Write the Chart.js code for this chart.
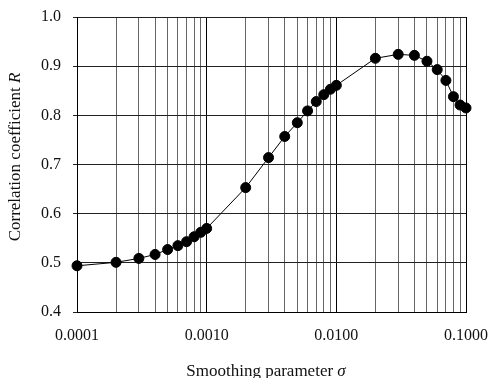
<!DOCTYPE html>
<html>
<head>
<meta charset="utf-8">
<script src="https://cdn.jsdelivr.net/npm/chart.js@4/dist/chart.umd.min.js"></script>
<style>
  html, body { margin: 0; padding: 0; background: #fff; }
  #wrap { width: 491px; height: 378px; }
</style>
</head>
<body>
<div id="wrap"><canvas id="myChart" width="491" height="378"></canvas></div>
<script>
// smoothing parameter sigma and correlation coefficient R
var sigma = [0.0001, 0.0002, 0.0003, 0.0004, 0.0005, 0.0006, 0.0007, 0.0008, 0.0009, 0.001,
             0.002, 0.003, 0.004, 0.005, 0.006, 0.007, 0.008, 0.009, 0.01,
             0.02, 0.03, 0.04, 0.05, 0.06, 0.07, 0.08, 0.09, 0.1];
var corr = [0.494, 0.501, 0.509, 0.517, 0.527, 0.535, 0.543, 0.553, 0.562, 0.570,
            0.653, 0.714, 0.757, 0.785, 0.809, 0.828, 0.842, 0.853, 0.861,
            0.916, 0.924, 0.922, 0.910, 0.893, 0.871, 0.838, 0.821, 0.815];
var xTickLabels = ['0.0001', '0.0010', '0.0100', '0.1000'];
var xTitle = ['Smoothing parameter ', 'σ'];
var yTitle = ['Correlation coefficient ', 'R'];

var serif = '"Liberation Serif", "Times New Roman", serif';

function isDecade(v) {
    var l = Math.log10(v);
    return Math.abs(l - Math.round(l)) < 1e-9;
}

// axis titles with an italic symbol at the end
function drawMixed(ctx, parts, x, y) {
    ctx.font = '17px ' + serif;
    var w0 = ctx.measureText(parts[0]).width;
    ctx.font = 'italic 17px ' + serif;
    var w1 = ctx.measureText(parts[1]).width;
    var start = x - (w0 + w1) / 2;
    ctx.textAlign = 'left';
    ctx.textBaseline = 'middle';
    ctx.fillStyle = '#111';
    ctx.font = '17px ' + serif;
    ctx.fillText(parts[0], start, y);
    ctx.font = 'italic 17px ' + serif;
    ctx.fillText(parts[1], start + w0, y);
}

var titlePlugin = {
    id: 'titles',
    afterDraw: function(chart) {
        var ctx = chart.ctx;
        ctx.save();
        drawMixed(ctx, xTitle, 266, 372);
        ctx.translate(16, 157);
        ctx.rotate(-Math.PI / 2);
        drawMixed(ctx, yTitle, 0, 0);
        ctx.restore();
    }
};

var ctx = document.getElementById('myChart').getContext('2d');
var myChart = new Chart(ctx, {
    type: 'line',
    data: {
        labels: sigma,
        datasets: [{
            data: sigma.map(function(s, i) { return { x: s, y: corr[i] }; }),
            borderColor: '#000',
            borderWidth: 1,
            backgroundColor: '#000',
            pointBackgroundColor: '#000',
            pointBorderColor: '#000',
            pointRadius: 5,
            pointHoverRadius: 5,
            tension: 0,
            fill: false,
            clip: false
        }]
    },
    options: {
        responsive: false,
        animation: false,
        events: [],
        layout: { padding: { top: 17, right: 0, left: 0, bottom: 0 } },
        plugins: { legend: { display: false }, tooltip: { enabled: false } },
        scales: {
            x: {
                type: 'logarithmic',
                min: 0.0001,
                max: 0.1,
                afterFit: function(scale) {
                    scale.height = 66;
                    scale.paddingRight = 25;
                },
                afterBuildTicks: function(scale) {
                    var t = [];
                    [0.0001, 0.001, 0.01].forEach(function(d) {
                        for (var k = 1; k <= 9; k++) t.push({ value: +(d * k).toPrecision(3) });
                    });
                    t.push({ value: 0.1 });
                    scale.ticks = t;
                },
                ticks: {
                    autoSkip: false,
                    maxRotation: 0,
                    padding: 14,
                    color: '#111',
                    font: { family: serif, size: 16 },
                    callback: function(v) {
                        if (!isDecade(v)) return '';
                        var i = Math.round(Math.log10(v)) + 4;
                        return xTickLabels[i];
                    }
                },
                grid: {
                    drawTicks: false,
                    color: function(c) { return c.tick && isDecade(c.tick.value) ? '#000' : '#666'; },
                    lineWidth: 1
                },
                border: { color: '#000', width: 1 }
            },
            y: {
                min: 0.4,
                max: 1.0,
                afterFit: function(scale) {
                    scale.width = 77;
                    scale.paddingTop = 0;
                    scale.paddingBottom = 0;
                },
                ticks: {
                    stepSize: 0.1,
                    padding: 12,
                    color: '#111',
                    font: { family: serif, size: 16 },
                    callback: function(v) { return v.toFixed(1); }
                },
                grid: {
                    color: '#222',
                    lineWidth: 1,
                    tickLength: 4
                },
                border: { color: '#000', width: 1 }
            }
        }
    },
    plugins: [titlePlugin]
});
</script>
</body>
</html>
